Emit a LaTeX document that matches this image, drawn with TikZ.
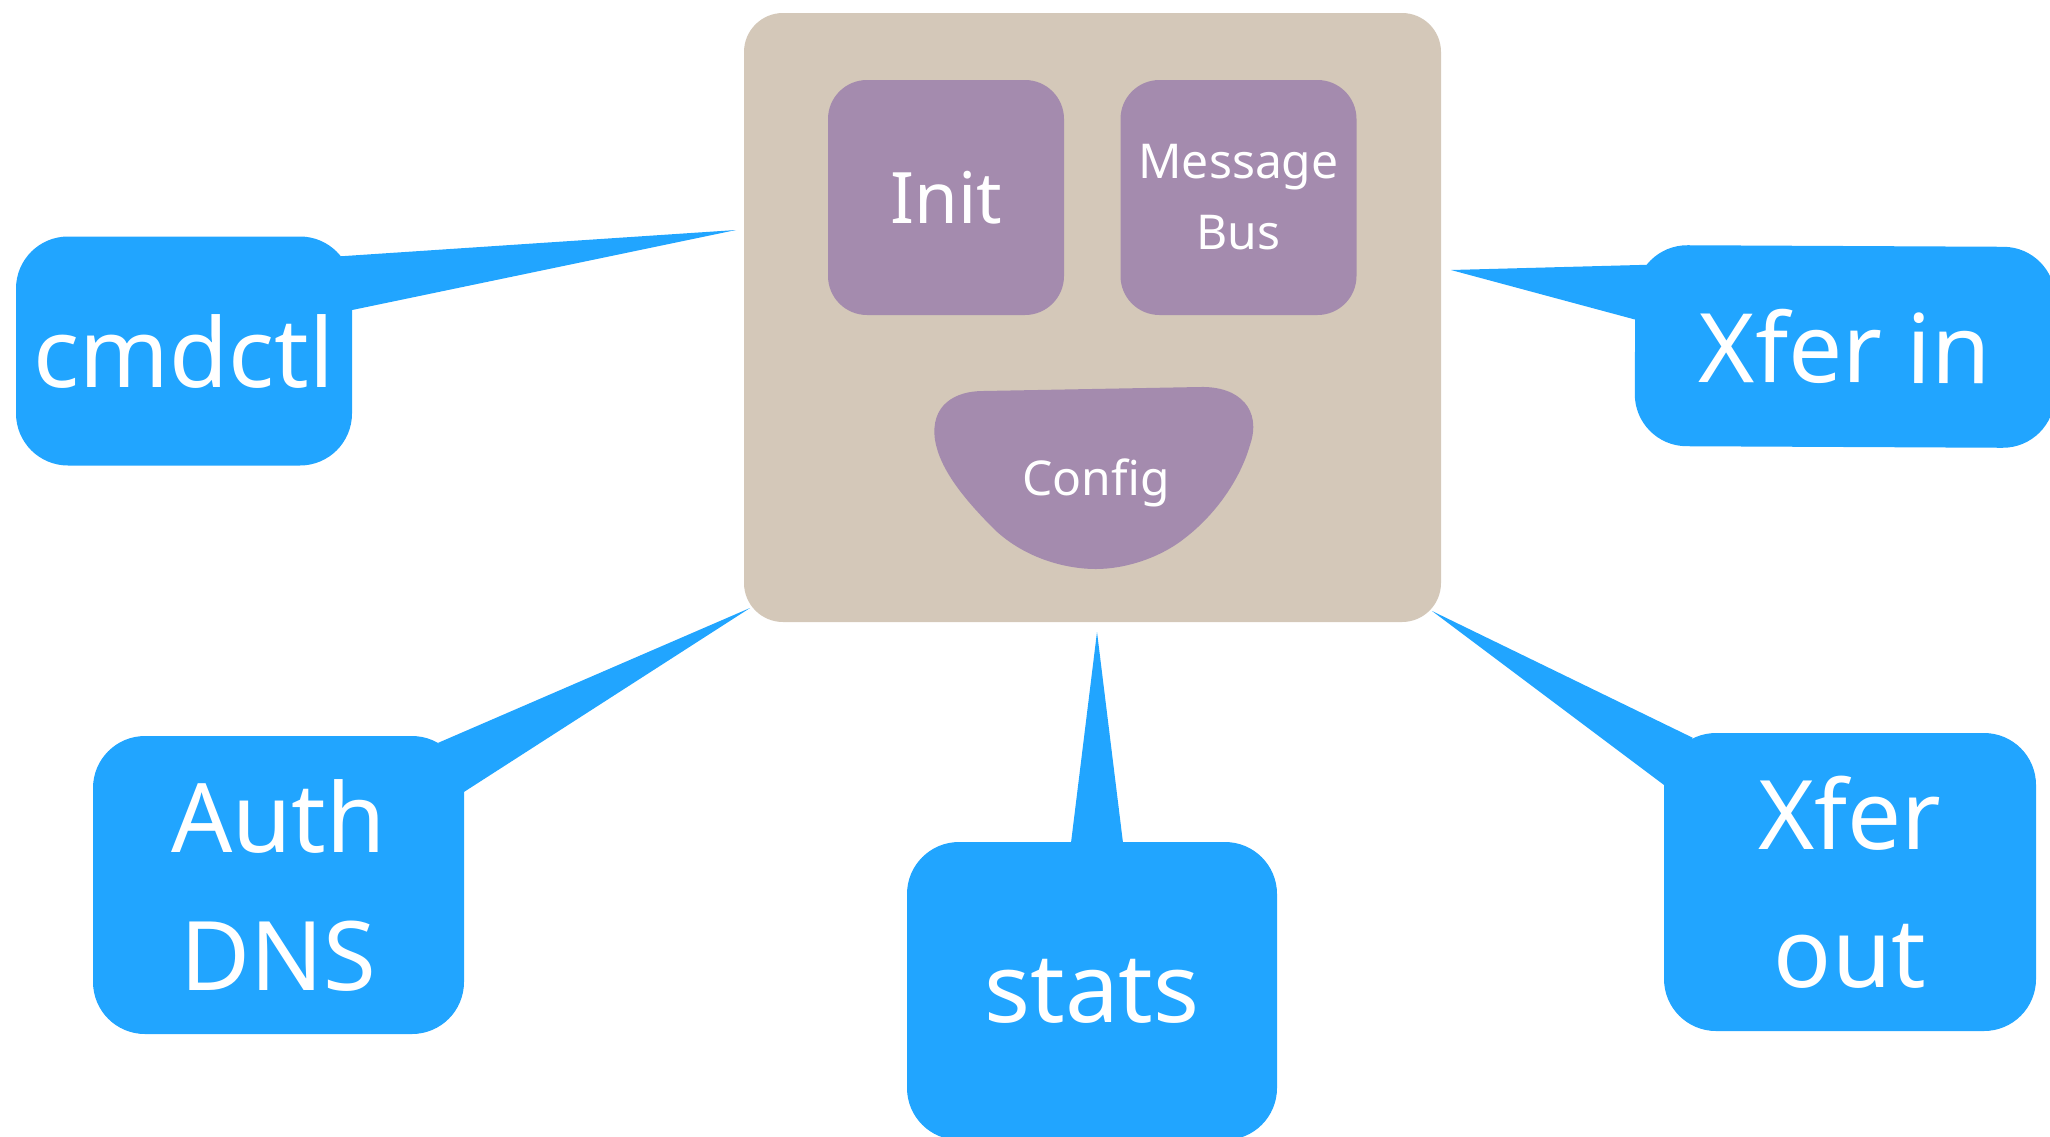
\documentclass[tikz,border=0pt]{standalone}
\usepackage{fontspec}
\setmainfont{Noto Sans}
\usetikzlibrary{calc}
\definecolor{cblue}{RGB}{33,165,255}
\definecolor{ctan}{RGB}{212,200,185}
\definecolor{cpurple}{RGB}{164,139,174}
\begin{document}
\begin{tikzpicture}[x=1pt,y=-1pt,
  blubox/.style={fill=cblue, rounded corners=52pt, text=white, align=center, inner sep=0pt, font=\fontsize{96}{138}\selectfont},
  purbox/.style={fill=cpurple, rounded corners=39pt, text=white, align=center, inner sep=0pt, minimum width=236pt, minimum height=235pt},
  tail/.style={fill=cblue}]
\useasboundingbox (0,0) rectangle (2050,1136);
% main container
\node[fill=ctan, rounded corners=39pt, minimum width=697pt, minimum height=609pt, inner sep=0pt] (main) at (1092.5,317.5) {};
\node[purbox, font=\fontsize{71}{85}\selectfont] (init) at (946,197.5) {Init};
\node[purbox, font=\fontsize{48}{71}\selectfont] (msg) at (1238.5,197.5) {Message\\Bus};
\fill[cpurple] (983,391) -- (1200,387)
  .. controls (1240,386) and (1262,410) .. (1250,445)
  .. controls (1240,480) and (1215,515) .. (1185,538)
  .. controls (1160,558) and (1125,569) .. (1096,569)
  .. controls (1065,569) and (1025,558) .. (995,530)
  .. controls (965,500) and (940,470) .. (935,440)
  .. controls (930,405) and (955,391) .. (983,391) -- cycle;
\node[text=white, font=\fontsize{48}{60}\selectfont, anchor=base] (config) at (1096,495) {Config};
% outer boxes
\node[blubox, minimum width=336pt, minimum height=229pt] (cmdctl) at (184,351) {cmdctl};
\node[blubox, rotate=-0.28, minimum width=420pt, minimum height=201pt] (xferin) at (1845,346.5) {Xfer in};
\node[blubox, minimum width=371pt, minimum height=298pt] (auth) at (278.5,885) {Auth\\DNS};
\node[blubox, minimum width=370pt, minimum height=298pt] (stats) at (1092,991) {stats};
\node[blubox, minimum width=372pt, minimum height=298pt] (xferout) at (1850,882) {Xfer\\out};
% tails
\coordinate (tip1) at (736,230);
\coordinate (tip2) at (1451,270);
\coordinate (tip3) at (750,608);
\coordinate (tip4) at (1097,632);
\coordinate (tip5) at (1432,611);
\fill[tail] ($(cmdctl.north east)+(-12,20)$) -- (tip1) -- ($(cmdctl.east)+(0,-41)$) -- cycle;
\fill[tail] ($(xferin.north west)+(12,20)$) -- (tip2) -- ($(xferin.west)+(0,-26)$) -- cycle;
\fill[tail] ($(auth.north east)+(-26,7)$) -- (tip3) -- ($(auth.north east)+(0,56)$) -- cycle;
\fill[tail] ($(stats.north)+(-21,1)$) -- (tip4) -- ($(stats.north)+(31,1)$) -- cycle;
\fill[tail] ($(xferout.north west)+(29,5)$) -- (tip5) -- ($(xferout.north west)+(0,52)$) -- cycle;
\end{tikzpicture}
\end{document}
